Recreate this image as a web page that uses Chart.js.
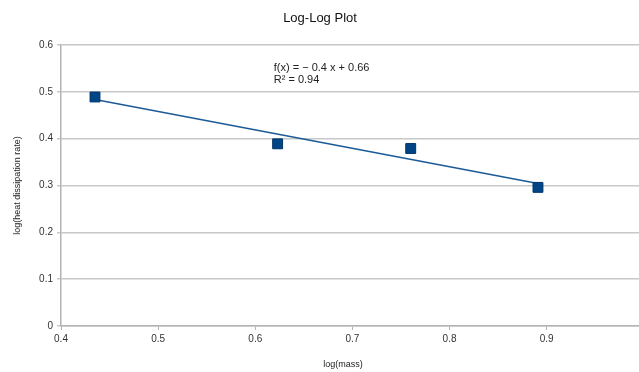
<!DOCTYPE html>
<html>
<head>
<meta charset="utf-8">
<script src="https://cdn.jsdelivr.net/npm/chart.js@4"></script>
<style>
  html, body { margin: 0; padding: 0; background: #fff; overflow: hidden; }
  /* a little wider than the window so the plot area runs to the right edge */
  #wrap { width: 647px; height: 372px; position: relative; }
</style>
</head>
<body>
<div id="wrap"><canvas id="plot"></canvas></div>
<script>
// data
const logMass = [0.435, 0.623, 0.76, 0.891];
const logHeat = [0.489, 0.389, 0.379, 0.296];
const xTicks = [0.4, 0.5, 0.6, 0.7, 0.8, 0.9];
const yTicks = [0, 0.1, 0.2, 0.3, 0.4, 0.5, 0.6];
const chartTitle = 'Log-Log Plot';
const xTitle = 'log(mass)';
const yTitle = 'log(heat dissipation rate)';
const equationText = ['f(x) = \u2212 0.4 x + 0.66', 'R\u00b2 = 0.94'];

const FONT = '"Liberation Sans", Arial, sans-serif';
const BLUE = '#004586';

// linear trend line (least squares)
const n = logMass.length;
const mx = logMass.reduce((a, b) => a + b, 0) / n;
const my = logHeat.reduce((a, b) => a + b, 0) / n;
let sxy = 0, sxx = 0;
for (let i = 0; i < n; i++) {
    sxy += (logMass[i] - mx) * (logHeat[i] - my);
    sxx += (logMass[i] - mx) ** 2;
}
const slope = sxy / sxx;
const intercept = my - slope * mx;
const xFirst = logMass[0], xLast = logMass[n - 1];
const trend = [
    { x: xFirst, y: slope * xFirst + intercept },
    { x: xLast, y: slope * xLast + intercept }
];

// title, x axis title and equation label
const textLabels = {
    id: 'textLabels',
    afterDraw(chart) {
        const { ctx, scales } = chart;
        ctx.save();
        ctx.textBaseline = 'middle';

        ctx.textAlign = 'center';
        ctx.fillStyle = '#111';
        ctx.font = '13px ' + FONT;
        ctx.fillText(chartTitle, 320, 18);

        ctx.fillStyle = '#222';
        ctx.font = '9px ' + FONT;
        ctx.fillText(xTitle, 343, 365);

        ctx.textAlign = 'left';
        ctx.font = '11px ' + FONT;
        const x = scales.x.getPixelForValue(0.619);
        const y = scales.y.getPixelForValue(0.551);
        ctx.fillText(equationText[0], x, y);
        ctx.fillText(equationText[1], x, y + 12);
        ctx.restore();
    }
};

new Chart(document.getElementById('plot'), {
    type: 'scatter',
    data: {
        datasets: [{
            type: 'line',
            label: 'trend',
            data: trend,
            borderColor: '#1c5a96',
            borderWidth: 1.5,
            pointRadius: 0,
            fill: false,
            order: 2
        }, {
            label: 'log-log',
            data: logMass.map((x, i) => ({ x: x, y: logHeat[i] })),
            pointStyle: 'rect',
            pointRadius: 7,
            backgroundColor: BLUE,
            borderColor: '#00366b',
            borderWidth: 1,
            order: 1
        }]
    },
    options: {
        responsive: true,
        maintainAspectRatio: false,
        animation: false,
        layout: { padding: { top: 45, left: 0, bottom: 0, right: 0 } },
        plugins: {
            legend: { display: false },
            tooltip: { enabled: false },
            title: { display: false }
        },
        scales: {
            x: {
                type: 'linear',
                min: 0.4,
                max: 0.995,
                afterBuildTicks: scale => { scale.ticks = xTicks.map(v => ({ value: v })); },
                afterFit: scale => {
                    scale.height = 46;
                    scale.paddingRight = 0;
                    scale.paddingLeft = 0;
                },
                ticks: {
                    color: '#333',
                    font: { family: FONT, size: 10 },
                    padding: 3,
                    maxRotation: 0,
                    callback: v => v.toString()
                },
                grid: {
                    drawOnChartArea: false,
                    drawTicks: true,
                    tickLength: 4,
                    color: '#b3b3b3'
                },
                border: { color: '#b3b3b3', width: 1.5 }
            },
            y: {
                type: 'linear',
                min: 0,
                max: 0.6,
                afterBuildTicks: scale => { scale.ticks = yTicks.map(v => ({ value: v })); },
                afterFit: scale => { scale.width = 61; },
                ticks: {
                    color: '#333',
                    font: { family: FONT, size: 10 },
                    padding: 4,
                    callback: v => v.toString()
                },
                grid: {
                    color: '#c8c8c8',
                    lineWidth: 1.5,
                    drawTicks: true,
                    tickLength: 4
                },
                border: { color: '#b3b3b3', width: 1.5 },
                title: {
                    display: true,
                    text: yTitle,
                    color: '#222',
                    font: { family: FONT, size: 9 },
                    padding: { top: 12, bottom: 2 }
                }
            }
        }
    },
    plugins: [textLabels]
});
</script>
</body>
</html>
